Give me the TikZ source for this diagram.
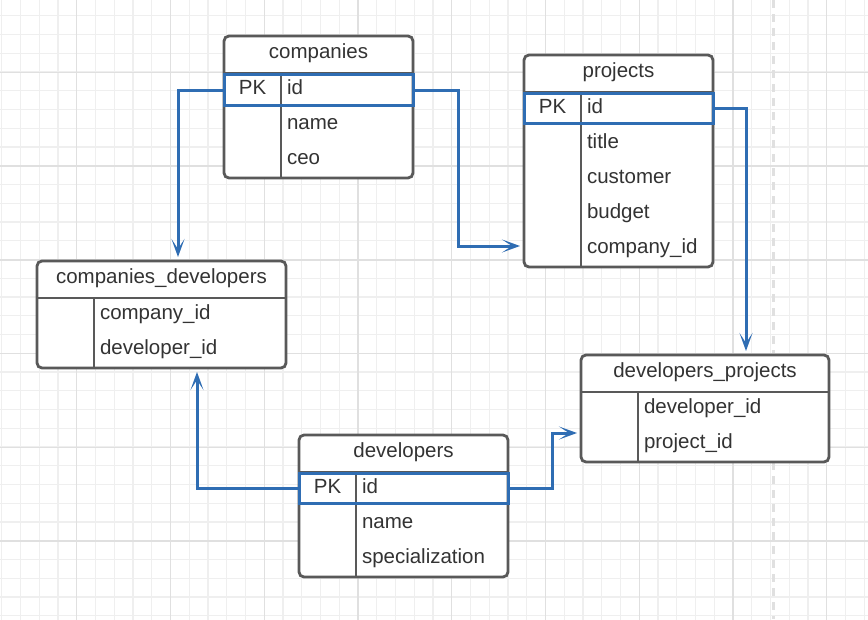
\documentclass[tikz,border=0pt]{standalone}
\usepackage{fontspec}
\setmainfont{Liberation Sans}
\usetikzlibrary{arrows.meta}

\definecolor{linegray}{HTML}{595959}
\definecolor{textgray}{HTML}{333333}
\definecolor{keyblue}{HTML}{2F6DB3}
\definecolor{gridminor}{HTML}{EFEFEF}
\definecolor{gridmajor}{HTML}{E0E0E0}

\begin{document}
\begin{tikzpicture} % one unit is one pixel of the sketch, y runs downwards
    [x=1pt, y=-1pt,
      every node/.style={font=\fontsize{20.5}{24}\selectfont, text=textgray,
        inner sep=0pt, outer sep=0pt},
      tbl/.style={draw=linegray, line width=2.8pt, rounded corners=5pt,
        fill=white, anchor=north west},
      sep/.style={draw=linegray, line width=2.8pt},
      pk/.style={draw=keyblue, line width=3pt, anchor=north west},
      head/.style={anchor=base},
      field/.style={anchor=base west},
      fk/.style={draw=keyblue, line width=3pt, shorten >=4pt,
        -{Stealth[length=18pt, width=13pt, inset=10pt]}}]
    \useasboundingbox[fill=white] (0,0) rectangle (868,619);

    % the squared paper behind everything
    \begin{scope}
      \clip (0,0) rectangle (868,619);
      \draw[gridminor, line width=1.2pt, xshift=1.7pt, yshift=-15.8pt]
        (-40,-40) grid[step=18.75pt] (900,660);
      \draw[gridmajor, line width=1.4pt, xshift=76.7pt, yshift=-72.3pt]
        (-200,-200) grid[step=93.75pt] (900,660);
      \draw[gridmajor, line width=2.5pt, dash pattern=on 8pt off 6pt]
        (773.5,0) -- (773.5,619);
    \end{scope}

    % companies
    \node[tbl, minimum width=189pt, minimum height=142pt] (companies) at (224,36) {};
    \draw[sep] (224,73) -- (413,73);
    \draw[sep] (281,73) -- (281,178);
    \node[pk, minimum width=189pt, minimum height=31pt] (companies-pk) at (224,74.5) {};
    \node[head] (companies-title) at (318.5,58.5) {companies};
    \node[head] (companies-key) at (252.5,94.5) {PK};
    \node[field] (companies-id) at (287,94.5) {id};
    \node[field] (companies-name) at (287,129.5) {name};
    \node[field] (companies-ceo) at (287,164.5) {ceo};

    % projects
    \node[tbl, minimum width=189pt, minimum height=212pt] (projects) at (524,55) {};
    \draw[sep] (524,92) -- (713,92);
    \draw[sep] (581,92) -- (581,267);
    \node[pk, minimum width=189pt, minimum height=30.5pt] (projects-pk) at (524,93) {};
    \node[head] (projects-title) at (618.5,77.5) {projects};
    \node[head] (projects-key) at (552.5,113.5) {PK};
    \node[field] (projects-id) at (587,113.5) {id};
    \node[field] (projects-name) at (587,148.5) {title};
    \node[field] (projects-customer) at (587,183.5) {customer};
    \node[field] (projects-budget) at (587,218.5) {budget};
    \node[field] (projects-company) at (587,253.5) {company\_id};

    % companies_developers
    \node[tbl, minimum width=249pt, minimum height=107pt] (cd) at (37,261) {};
    \draw[sep] (37,298) -- (286,298);
    \draw[sep] (94,298) -- (94,368);
    \node[head] (cd-title) at (161.5,283.5) {companies\_developers};
    \node[field] (cd-company) at (100,319.5) {company\_id};
    \node[field] (cd-developer) at (100,354.5) {developer\_id};

    % developers_projects
    \node[tbl, minimum width=248pt, minimum height=107pt] (dp) at (581,355) {};
    \draw[sep] (581,392) -- (829,392);
    \draw[sep] (638,392) -- (638,462);
    \node[head] (dp-title) at (705,377.5) {developers\_projects};
    \node[field] (dp-developer) at (644,413.5) {developer\_id};
    \node[field] (dp-project) at (644,448.5) {project\_id};

    % developers
    \node[tbl, minimum width=209pt, minimum height=142pt] (developers) at (299,435) {};
    \draw[sep] (299,472) -- (508,472);
    \draw[sep] (356,472) -- (356,577);
    \node[pk, minimum width=209pt, minimum height=30pt] (developers-pk) at (299,473) {};
    \node[head] (developers-title) at (403.5,457.5) {developers};
    \node[head] (developers-key) at (327.5,493.5) {PK};
    \node[field] (developers-id) at (362,493.5) {id};
    \node[field] (developers-name) at (362,528.5) {name};
    \node[field] (developers-spec) at (362,563.5) {specialization};

    % bends of the key lines
    \coordinate (j1) at (178,0);
    \coordinate (j2) at (458,246);
    \coordinate (j3) at (746,0);
    \coordinate (j4) at (197,0);
    \coordinate (j5) at (552,433);

    \draw[fk] (companies-pk.west) -| (j1 |- cd.north);
    \draw[fk] (companies-pk.east) -| (j2) -- (j2 -| projects.west);
    \draw[fk] (projects-pk.east) -| (j3 |- dp.north);
    \draw[fk] (developers-pk.west) -| (j4 |- cd.south);
    \draw[fk] (developers-pk.east) -| (j5) -- (j5 -| dp.west);
\end{tikzpicture}
\end{document}
